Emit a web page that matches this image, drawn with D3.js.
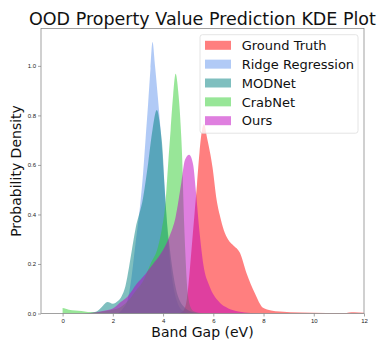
<!DOCTYPE html>
<html>
<head>
<meta charset="utf-8">
<script src="https://cdn.jsdelivr.net/npm/d3@7"></script>
<style>
  body { margin: 0; background: #fff; }
  svg { font-family: "DejaVu Sans", sans-serif; }
  .tick text { font-size: 6px; fill: #222; }
</style>
</head>
<body>
<div id="viz"></div>
<script>
// series names, legend order = draw order
var seriesNames = ["Ground Truth", "Ridge Regression", "MODNet", "CrabNet", "Ours"];
var seriesColors = ["#ff0000", "#6495ed", "#008080", "#32cd32", "#bf00bf"];

// KDE curves: [band gap (eV), density]
var groundTruth = [
    [4.6, 0], [4.8, 0.01], [4.95, 0.06], [5.05, 0.16], [5.15, 0.28], [5.25, 0.4],
    [5.35, 0.52], [5.45, 0.65], [5.55, 0.74], [5.63, 0.765], [5.75, 0.71], [5.97, 0.59],
    [6.13, 0.46], [6.3, 0.38], [6.46, 0.325], [6.65, 0.29], [6.8, 0.275], [7.06, 0.245],
    [7.32, 0.164], [7.65, 0.083], [7.98, 0.023], [8.3, 0.012], [8.65, 0.008], [9.5, 0.004],
    [10.5, 0.002], [11.2, 0.002], [11.6, 0.005], [12, 0.003]
];
var ridge = [
    [2.2, 0], [2.4, 0.02], [2.6, 0.06], [2.75, 0.15], [2.9, 0.28], [3.0, 0.36], [3.1, 0.45],
    [3.2, 0.56], [3.3, 0.7], [3.4, 0.84], [3.5, 0.99], [3.58, 1.096], [3.67, 1.01],
    [3.79, 0.876], [3.9, 0.742], [4.0, 0.6], [4.1, 0.45], [4.2, 0.3], [4.35, 0.15],
    [4.55, 0.05], [4.8, 0.01], [5.1, 0]
];
var modnet = [
    [0.8, 0], [1.1, 0.003], [1.35, 0.008], [1.55, 0.025], [1.79, 0.046], [2.0, 0.039],
    [2.2, 0.05], [2.35, 0.07], [2.5, 0.11], [2.65, 0.19], [2.9, 0.34], [3.21, 0.47],
    [3.41, 0.61], [3.58, 0.742], [3.75, 0.822], [3.9, 0.742], [3.98, 0.66], [4.05, 0.53],
    [4.14, 0.39], [4.27, 0.26], [4.47, 0.12], [4.8, 0.03], [5.2, 0.005], [5.6, 0]
];
var crabnet = [
    [0, 0], [0, 0.022], [0.25, 0.015], [0.5, 0.012], [0.75, 0.01], [1.0, 0.006], [1.3, 0.005],
    [1.6, 0.008], [2.0, 0.015], [2.3, 0.025], [2.6, 0.05], [2.9, 0.09], [3.2, 0.13],
    [3.5, 0.2], [3.8, 0.27], [3.95, 0.34], [4.1, 0.45], [4.2, 0.6], [4.3, 0.74], [4.4, 0.88],
    [4.5, 0.968], [4.6, 0.9], [4.7, 0.76], [4.77, 0.6], [4.82, 0.42], [4.88, 0.26],
    [4.95, 0.12], [5.05, 0.04], [5.2, 0.01], [5.5, 0.002], [6, 0]
];
var ours = [
    [0.8, 0], [1.2, 0.003], [1.6, 0.01], [2.0, 0.02], [2.3, 0.045], [2.6, 0.07],
    [2.95, 0.12], [3.3, 0.16], [3.6, 0.2], [3.9, 0.24], [4.25, 0.31], [4.5, 0.39],
    [4.73, 0.53], [4.87, 0.62], [5.04, 0.641], [5.2, 0.6], [5.3, 0.5], [5.45, 0.33],
    [5.6, 0.2], [5.85, 0.11], [6.2, 0.05], [6.6, 0.02], [7, 0.008], [7.5, 0.002], [8, 0]
];
var curves = [groundTruth, ridge, modnet, crabnet, ours];

var xTicks = [0, 2, 4, 6, 8, 10, 12];
var yTicks = [0, 0.2, 0.4, 0.6, 0.8, 1.0];

var width = 382, height = 342;
var margin = {top: 28.5, right: 18, bottom: 28.5, left: 41};

var svg = d3.select("#viz").append("svg")
    .attr("width", width)
    .attr("height", height);

var x = d3.scaleLinear()
    .domain([-0.86, 12])
    .range([margin.left, width - margin.right]);

var y = d3.scaleLinear()
    .domain([0, 1.151])
    .range([height - margin.bottom, margin.top]);

// filled kde areas
var area = d3.area()
    .x(function(d) { return x(d[0]); })
    .y0(y(0))
    .y1(function(d) { return y(d[1]); })
    .curve(d3.curveMonotoneX);

svg.append("g").selectAll("path")
    .data(curves)
    .enter()
    .append("path")
    .attr("d", area)
    .attr("fill", function(d, i) { return seriesColors[i]; })
    .attr("fill-opacity", 0.5)
    .attr("stroke", "none");

// axes
var xAxis = d3.axisBottom(x).tickValues(xTicks).tickSize(3).tickPadding(2)
    .tickFormat(d3.format("d"));
var yAxis = d3.axisLeft(y).tickValues(yTicks).tickSize(3).tickPadding(2)
    .tickFormat(d3.format(".1f"));

var gx = svg.append("g")
    .attr("transform", "translate(0," + (height - margin.bottom) + ")")
    .call(xAxis);
var gy = svg.append("g")
    .attr("transform", "translate(" + margin.left + ",0)")
    .call(yAxis);

[gx, gy].forEach(function(g) {
    g.select(".domain").remove();
    g.selectAll(".tick line").attr("stroke", "#666").attr("stroke-width", 0.6);
});

// spines
svg.append("rect")
    .attr("x", margin.left)
    .attr("y", margin.top)
    .attr("width", width - margin.left - margin.right)
    .attr("height", height - margin.top - margin.bottom)
    .attr("fill", "none")
    .attr("stroke", "#8a8a8a")
    .attr("stroke-width", 0.8);

// title and axis labels
svg.append("text")
    .attr("x", (margin.left + width - margin.right) / 2)
    .attr("y", 25)
    .attr("text-anchor", "middle")
    .attr("font-size", "17.5px")
    .attr("fill", "#111")
    .text("OOD Property Value Prediction KDE Plot");

svg.append("text")
    .attr("x", (margin.left + width - margin.right) / 2)
    .attr("y", 337)
    .attr("text-anchor", "middle")
    .attr("font-size", "14px")
    .attr("fill", "#111")
    .text("Band Gap (eV)");

svg.append("text")
    .attr("transform", "translate(21," + ((margin.top + height - margin.bottom) / 2) + ") rotate(-90)")
    .attr("text-anchor", "middle")
    .attr("font-size", "14px")
    .attr("fill", "#111")
    .text("Probability Density");

// legend
var legend = svg.append("g").attr("transform", "translate(200,34.7)");
legend.append("rect")
    .attr("width", 158)
    .attr("height", 98.5)
    .attr("rx", 2.5)
    .attr("fill", "#fff")
    .attr("fill-opacity", 0.8)
    .attr("stroke", "#ddd")
    .attr("stroke-width", 0.8);

var items = legend.selectAll(".item")
    .data(seriesNames)
    .enter()
    .append("g")
    .attr("class", "item")
    .attr("transform", function(d, i) { return "translate(0," + (10.6 + i * 18.85) + ")"; });

items.append("rect")
    .attr("x", 5)
    .attr("y", -4.5)
    .attr("width", 26)
    .attr("height", 9)
    .attr("fill", function(d, i) { return seriesColors[i]; })
    .attr("fill-opacity", 0.5);

items.append("text")
    .attr("x", 41.7)
    .attr("y", 4.7)
    .attr("font-size", "13px")
    .attr("fill", "#111")
    .text(function(d) { return d; });
</script>
</body>
</html>
